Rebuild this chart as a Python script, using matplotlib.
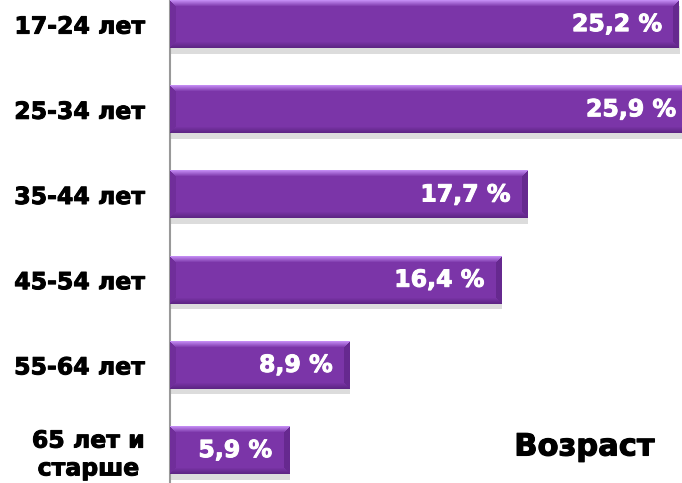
import numpy as np
import matplotlib
matplotlib.use("Agg")
import matplotlib.pyplot as plt
import matplotlib.patheffects as pe

categories = ["17-24 лет", "25-34 лет", "35-44 лет", "45-54 лет", "55-64 лет", "65 лет и\nстарше"]
values = [25.2, 25.9, 17.7, 16.4, 8.9, 5.9]
value_labels = ["25,2 %", "25,9 %", "17,7 %", "16,4 %", "8,9 %", "5,9 %"]
title = "Возраст"

W, H = 682, 483
fig = plt.figure(figsize=(W / 100, H / 100), dpi=100)
ax = fig.add_axes([170 / W, 0, (W - 170) / W, 1])
ax.set_xlim(0, 25.35)
ax.set_ylim(5.386, -0.283)

main = np.array([0x7B, 0x35, 0xA8]) / 255
light = np.array([0xC2, 0x8A, 0xF2]) / 255
dark = np.array([0x5E, 0x25, 0x85]) / 255
side = np.array([0x70, 0x2E, 0x9A]) / 255
rside = np.array([0x66, 0x29, 0x8F]) / 255

ypos = np.arange(len(values))
bh = 0.563
bars = ax.barh(ypos, values, height=bh, color=main, zorder=2,
               path_effects=[pe.SimplePatchShadow(offset=(0.5, -4), shadow_rgbFace=(0.55, 0.55, 0.55), alpha=0.3),
                             pe.Normal()])

fig.canvas.draw()
for b in bars:
    x0, y0, w, h = b.get_x(), b.get_y(), b.get_width(), b.get_height()
    p0 = ax.transData.transform((x0, y0))
    p1 = ax.transData.transform((x0 + w, y0 + h))
    wpx = int(round(abs(p1[0] - p0[0])))
    hpx = int(round(abs(p1[1] - p0[1])))
    img = np.tile(main, (hpx, wpx, 1)).astype(float)
    bev = 6
    rows = np.arange(hpx)[:, None]
    cols = np.arange(wpx)[None, :]
    top = rows < bev
    bot = rows >= hpx - bev
    left = cols < bev
    right = cols >= wpx - bev
    lmask = left & (cols < rows) & (cols < hpx - 1 - rows)
    rmask = right & ((wpx - 1 - cols) < rows) & ((wpx - 1 - cols) < hpx - 1 - rows)
    tmask = top & ~lmask & ~rmask
    bmask = bot & ~lmask & ~rmask
    img[lmask] = side
    img[rmask] = rside
    for r in range(bev):
        t = r / bev
        c = light * (1 - t) + main * t
        img[r, tmask[r, :]] = c
        t2 = (r + 1) / bev
        c2 = main * (1 - t2) + dark * t2
        img[hpx - bev + r, bmask[hpx - bev + r, :]] = c2
    ax.imshow(img, extent=(x0, x0 + w, y0 + h, y0), aspect="auto", zorder=3,
              interpolation="nearest", clip_path=b, clip_on=True)

for v, lab, y in zip(values, value_labels, ypos):
    ax.annotate(lab, xy=(v, y), xytext=(-17, 0), textcoords="offset pixels",
                ha="right", va="center", color="white", fontsize=17,
                fontweight="bold", zorder=5, annotation_clip=False,
                path_effects=[pe.withStroke(linewidth=0.7, foreground="white")])

ax.set_yticks(ypos, categories)
ax.tick_params(axis="y", length=0, pad=18, labelsize=17)
for t in ax.get_yticklabels():
    t.set_fontweight("bold")
    t.set_multialignment("center")
    t.set_path_effects([pe.withStroke(linewidth=0.7, foreground="black")])
ax.set_xticks([])
for s in ["top", "right", "bottom"]:
    ax.spines[s].set_visible(False)
ax.spines["left"].set_color("#999999")
ax.spines["left"].set_linewidth(1.5)
ax.spines["left"].set_zorder(1)

fig.text(584 / W, 1 - 447 / H, title, ha="center", va="center",
         fontsize=22, fontweight="bold", color="black",
         path_effects=[pe.withStroke(linewidth=0.8, foreground="black")])

fig.savefig("out.png", dpi=100)
